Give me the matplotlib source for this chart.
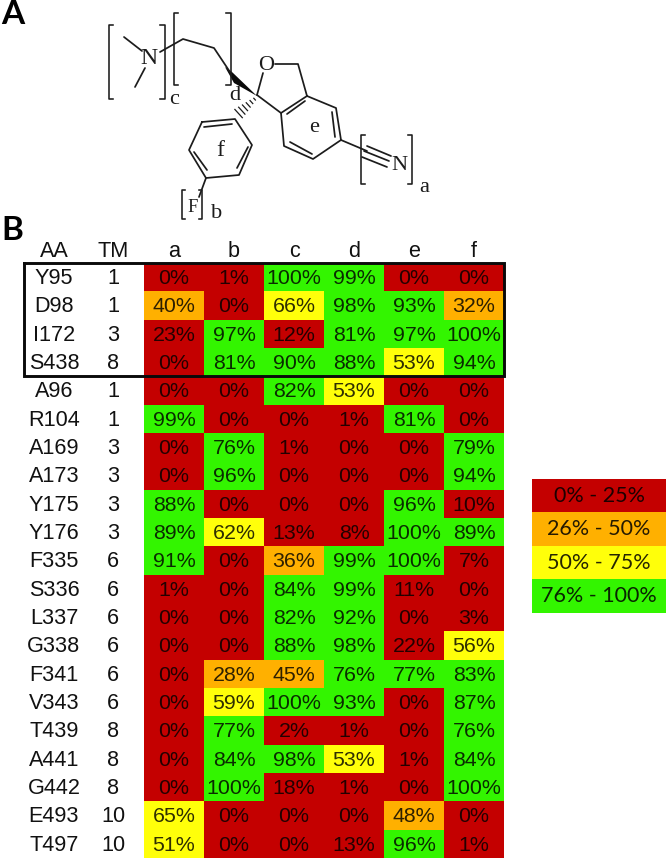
import matplotlib
matplotlib.use("Agg")
import matplotlib.pyplot as plt
from matplotlib.colors import ListedColormap, BoundaryNorm
import numpy as np

residues = ["Y95", "D98", "I172", "S438", "A96", "R104", "A169", "A173", "Y175", "Y176", "F335",
            "S336", "L337", "G338", "F341", "V343", "T439", "A441", "G442", "E493", "T497"]
tm = [1, 1, 3, 8, 1, 1, 3, 3, 3, 3, 6, 6, 6, 6, 6, 6, 8, 8, 8, 10, 10]
columns = ["a", "b", "c", "d", "e", "f"]

col_a = [0, 40, 23, 0, 0, 99, 0, 0, 88, 89, 91, 1, 0, 0, 0, 0, 0, 0, 0, 65, 51]
col_b = [1, 0, 97, 81, 0, 0, 76, 96, 0, 62, 0, 0, 0, 0, 28, 59, 77, 84, 100, 0, 0]
col_c = [100, 66, 12, 90, 82, 0, 1, 0, 0, 13, 36, 84, 82, 88, 45, 100, 2, 98, 18, 0, 0]
col_d = [99, 98, 81, 88, 53, 1, 0, 0, 0, 8, 99, 99, 92, 98, 76, 93, 1, 53, 1, 0, 13]
col_e = [0, 93, 97, 53, 0, 81, 0, 0, 96, 100, 100, 11, 0, 22, 77, 0, 0, 1, 0, 48, 96]
col_f = [0, 32, 100, 94, 0, 0, 79, 94, 10, 89, 7, 0, 3, 56, 83, 87, 76, 84, 100, 0, 1]

legend_labels = ["0% - 25%", "26% - 50%", "50% - 75%", "76% - 100%"]
bin_edges = [0, 25.5, 50.5, 75.5, 100.5]
bin_colors = ["#C40000", "#FFB000", "#FFFF0A", "#33F500"]

W, H = 666, 859
SERIF = "Liberation Serif"
SANS = "Liberation Sans"


def pixel_axes(fig, x0, y0, x1, y1):
    # axes placed by pixel box, y measured from the top of the image
    return fig.add_axes([x0 / W, 1 - y1 / H, (x1 - x0) / W, (y1 - y0) / H])


fig = plt.figure(figsize=(W / 100, H / 100), dpi=100)

# heat table
values = np.array([col_a, col_b, col_c, col_d, col_e, col_f]).T
cmap = ListedColormap(bin_colors)
norm = BoundaryNorm(bin_edges, cmap.N)

ax = pixel_axes(fig, 144, 263, 504, 858)
ax.imshow(values, cmap=cmap, norm=norm, aspect="auto", interpolation="nearest")
ax.axis("off")
for i in range(values.shape[0]):
    for j in range(values.shape[1]):
        ax.text(j, i + 0.05, "{}%".format(values[i, j]), ha="center", va="center",
                family=SANS, fontsize=15.4, color="#000000", alpha=0.82)

# row and column labels, x given in cell units left of the table
AA_X = -2.0
TM_X = -1.017
HEAD_Y = -0.92
for i in range(len(residues)):
    ax.text(AA_X, i + 0.05, residues[i], ha="center", va="center", family=SANS,
            fontsize=15.6, color="#111111", clip_on=False)
    ax.text(TM_X, i + 0.05, str(tm[i]), ha="center", va="center", family=SANS,
            fontsize=15.6, color="#111111", clip_on=False)
for j, name in enumerate(columns):
    ax.text(j, HEAD_Y, name, ha="center", va="center", family=SANS, fontsize=15.6,
            color="#111111", clip_on=False)
ax.text(AA_X, HEAD_Y, "AA", ha="center", va="center", family=SANS, fontsize=15.6,
        color="#111111", clip_on=False)
ax.text(TM_X, HEAD_Y, "TM", ha="center", va="center", family=SANS, fontsize=15.6,
        color="#111111", clip_on=False)

# colour key
lg = pixel_axes(fig, 532, 479, 666, 613)
lg.imshow(np.arange(4).reshape(4, 1), cmap=cmap, aspect="auto", interpolation="nearest")
lg.axis("off")
for i, lab in enumerate(legend_labels):
    lg.text(0, i, lab, ha="center", va="center", family="Lato", fontsize=15.5,
            color="#000000", alpha=0.85)

# overlay in image pixels for the box, panel letters and the molecule
ov = fig.add_axes([0, 0, 1, 1])
ov.set_xlim(0, W)
ov.set_ylim(H, 0)
ov.axis("off")
ov.patch.set_alpha(0)

ov.plot([24, 504, 504, 24, 24], [263, 263, 376, 376, 263], color="#0a0a0a", lw=2.1,
        solid_joinstyle="miter")

ov.text(13, 15, "A", ha="center", va="center", family="Lato", weight="bold",
        fontsize=24, color="black")
ov.text(12, 231, "B", ha="center", va="center", family="Lato", weight="bold",
        fontsize=24, color="black")

INK = "#1c1c1c"
bonds = [
    [(124, 37), (142, 51)], [(145, 68), (135, 87)],
    [(160, 52), (183, 39), (214, 48), (230, 72)],
    [(257, 95), (263, 73)], [(275, 64), (298, 64), (307, 96)],
    [(307, 96), (336, 108), (341, 140), (313, 159), (284, 146), (281, 113), (307, 96)],
    [(257, 95), (281, 113)],
    [(305, 101), (287, 114)], [(332, 112), (335, 137)], [(312, 154), (290, 142)],
    [(341, 140), (367, 151)],
    [(367, 146), (391, 156)], [(364, 151), (389, 161)], [(362, 157), (387, 167)],
    [(202, 122), (235, 119), (252, 145), (239, 175), (206, 178), (189, 150), (202, 122)],
    [(204, 127), (232, 124)], [(248, 147), (237, 168)], [(207, 170), (194, 152)],
    [(206, 178), (199, 197)],
]
for b in bonds:
    xs, ys = zip(*b)
    ov.plot(xs, ys, color=INK, lw=1.25, solid_capstyle="round")

brackets = [(108.5, 113, 25, 99), (165, 160, 25, 99), (174, 178, 13, 85), (231, 226, 13, 85),
            (361, 365, 135, 184), (412, 408, 135, 184), (182, 185, 190, 219), (202, 199, 190, 219)]
for xb, xs, y0, y1 in brackets:
    ov.plot([xs, xb, xb, xs], [y0, y0, y1, y1], color=INK, lw=1.15)

# wedge and hashed bond at the chiral carbon
ov.fill([225, 232, 257, 234], [67, 72, 96, 83], color="#0a0a0a", lw=0)
hash_t = [0.12, 0.28, 0.44, 0.6, 0.76, 0.92]
for t in hash_t:
    cx, cy = 257 - 20 * t, 97 + 18 * t
    hw = 0.5 + 5.5 * t
    ov.plot([cx - hw * 0.67, cx + hw * 0.67], [cy - hw * 0.74, cy + hw * 0.74], color=INK, lw=0.9)

atoms = [("N", 149, 58, 18), ("O", 266, 65, 17), ("N", 399, 166, 17), ("F", 193, 207, 14),
         ("c", 174, 100, 17), ("d", 235, 95, 17), ("e", 314, 127, 17), ("f", 220, 151, 18),
         ("a", 424, 187, 17), ("b", 217, 213, 17)]
for s, x, y, size in atoms:
    ov.text(x, y, s, ha="center", va="center", family=SERIF, fontsize=size * 0.95, color=INK)

fig.savefig("out.png", dpi=100, facecolor="white")
